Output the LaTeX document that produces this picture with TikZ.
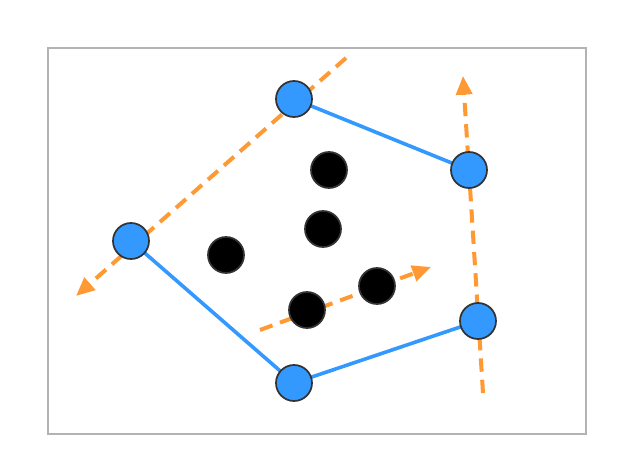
\documentclass[tikz,border=0pt]{standalone}
\usetikzlibrary{arrows.meta}
\definecolor{hullblue}{HTML}{3399FF}
\definecolor{dirorange}{HTML}{FF9933}
\definecolor{framegray}{HTML}{B3B3B3}
\definecolor{ringgray}{HTML}{333333}
\begin{document}
\begin{tikzpicture}[x=0.75pt,y=-0.75pt,
  hullpt/.style={circle,draw=ringgray,line width=1.3pt,fill=hullblue,minimum size=27pt,inner sep=0pt},
  innerpt/.style={circle,draw=ringgray,line width=1.3pt,fill=black,minimum size=27pt,inner sep=0pt},
  edge/.style={draw=hullblue,line width=2.7pt},
  dir/.style={draw=dirorange,line width=3pt,dash pattern=on 10pt off 6pt,-{Triangle[length=14pt,width=12pt]}}]
\useasboundingbox (0,0) rectangle (618,466);
\draw[framegray,line width=1.5pt,fill=white] (48,48) rectangle (586,434);
% free ends
\coordinate (d1s) at (346,58);
\coordinate (d1e) at (76,296);
\coordinate (d2s) at (483,393);
\coordinate (d2e) at (463,76);
\coordinate (d3s) at (260,330);
\coordinate (d3e) at (431,267);
\draw[dir] (d1s) -- (d1e);
\draw[dir] (d2s) -- (d2e);
\draw[dir] (d3s) -- (d3e);
% node positions
\path (294,99) coordinate (pa) (469,170) coordinate (pb) (131,241) coordinate (pc)
      (478,321) coordinate (pd) (294,383) coordinate (pe);
\draw[edge] (pa) -- (pb);
\draw[edge] (pc) -- (pe);
\draw[edge] (pe) -- (pd);
\node[hullpt] (a) at (pa) {};
\node[hullpt] (b) at (pb) {};
\node[hullpt] (c) at (pc) {};
\node[hullpt] (d) at (pd) {};
\node[hullpt] (e) at (pe) {};
\node[innerpt] (i1) at (329,170) {};
\node[innerpt] (i2) at (323,229) {};
\node[innerpt] (i3) at (226,255) {};
\node[innerpt] (i4) at (377,286) {};
\node[innerpt] (i5) at (307,310) {};
\end{tikzpicture}
\end{document}
